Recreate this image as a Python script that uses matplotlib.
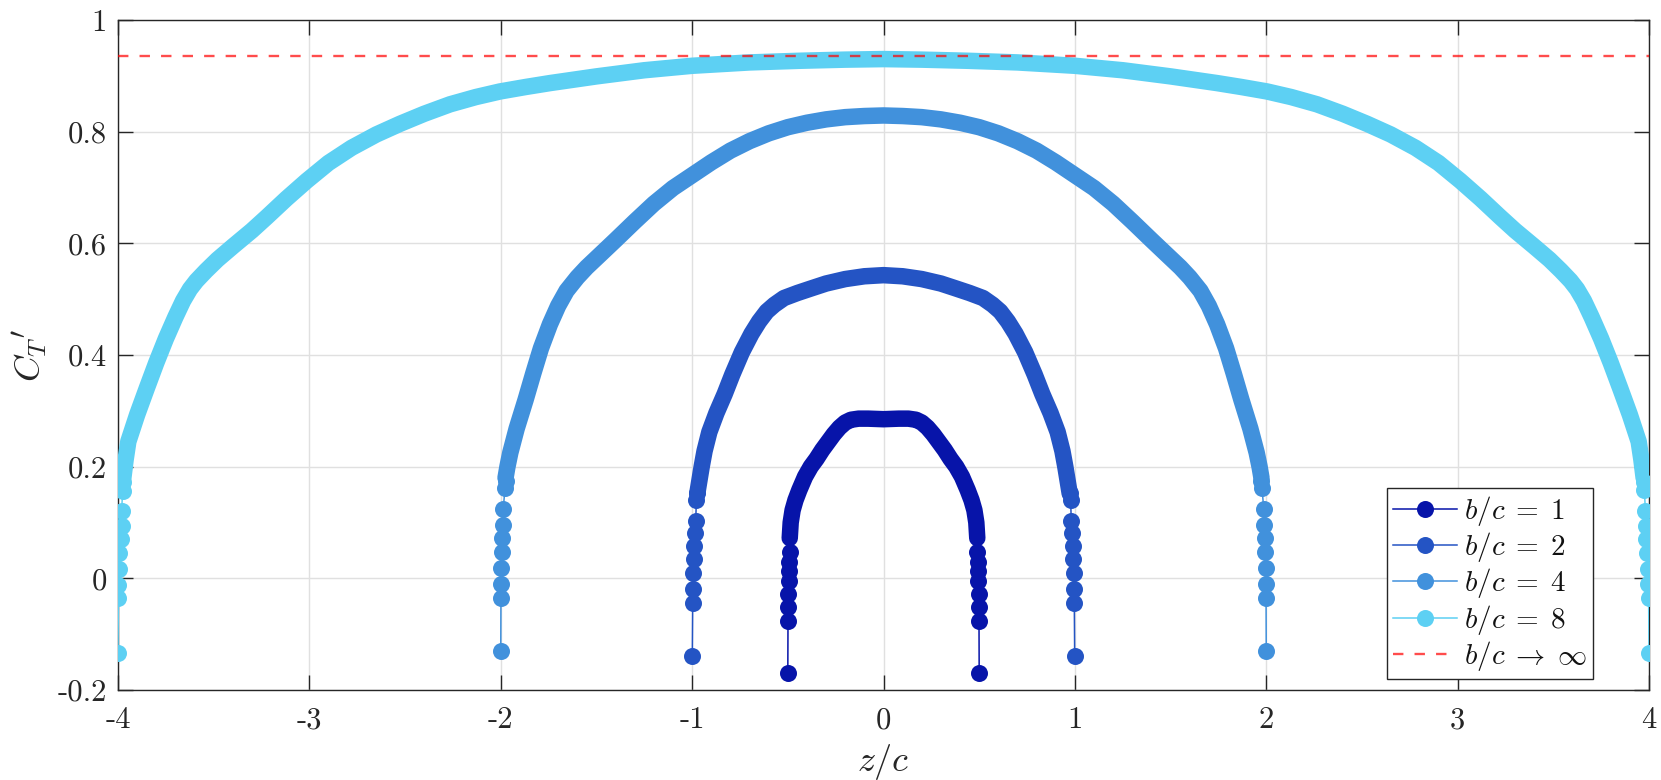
import matplotlib
matplotlib.use("Agg")
import matplotlib.pyplot as plt
from matplotlib.lines import Line2D

plt.rcParams['mathtext.fontset'] = 'cm'
plt.rcParams['lines.scale_dashes'] = False

# ---------------- data ----------------
labels = [r"$b/c\;=\;1$", r"$b/c\;=\;2$", r"$b/c\;=\;4$", r"$b/c\;=\;8$"]
label_inf = r"$b/c\;\rightarrow\;\infty$"
colors = ["#0714A9", "#2454C4", "#4191DC", "#5DD0F3"]
ct_inf = 0.936

# b/c = 1
z1_tipL = [-0.500, -0.499, -0.498, -0.497, -0.496, -0.494, -0.492, -0.490]
c1_tipL = [-0.170, -0.076, -0.052, -0.028, -0.005, 0.013, 0.030, 0.047]
z1_band = [-0.490, -0.485, -0.475, -0.460, -0.440, -0.410, -0.380, -0.350, -0.320, -0.290,
           -0.260, -0.230, -0.200, -0.170, -0.130, -0.080, 0.000, 0.080, 0.130, 0.170,
           0.200, 0.230, 0.260, 0.290, 0.320, 0.350, 0.380, 0.410, 0.440, 0.460,
           0.475, 0.485, 0.490]
c1_band = [0.072, 0.100, 0.122, 0.140, 0.158, 0.182, 0.200, 0.214, 0.230, 0.244,
           0.258, 0.270, 0.279, 0.284, 0.286, 0.286, 0.285, 0.286, 0.286, 0.284,
           0.279, 0.270, 0.258, 0.244, 0.230, 0.214, 0.200, 0.182, 0.158, 0.140,
           0.122, 0.100, 0.072]
z1_tipR = [0.490, 0.492, 0.494, 0.496, 0.497, 0.498, 0.499, 0.500]
c1_tipR = [0.047, 0.030, 0.013, -0.005, -0.028, -0.052, -0.076, -0.170]

# b/c = 2
z2_tipL = [-0.999, -0.997, -0.995, -0.993, -0.991, -0.988, -0.985, -0.981, -0.978, -0.973]
c2_tipL = [-0.139, -0.045, -0.020, 0.009, 0.035, 0.058, 0.081, 0.103, 0.140, 0.152]
z2_band = [-0.973, -0.962, -0.950, -0.935, -0.910, -0.873, -0.830, -0.790, -0.740, -0.690,
           -0.650, -0.610, -0.570, -0.520, -0.450, -0.380, -0.300, -0.200, -0.100, 0.000,
           0.100, 0.200, 0.300, 0.380, 0.450, 0.520, 0.570, 0.610, 0.650, 0.690,
           0.740, 0.790, 0.830, 0.873, 0.910, 0.935, 0.950, 0.962, 0.973]
c2_band = [0.152, 0.175, 0.200, 0.228, 0.262, 0.296, 0.330, 0.365, 0.405, 0.438,
           0.460, 0.478, 0.490, 0.502, 0.511, 0.519, 0.528, 0.536, 0.541, 0.543,
           0.541, 0.536, 0.528, 0.519, 0.511, 0.502, 0.490, 0.478, 0.460, 0.438,
           0.405, 0.365, 0.330, 0.296, 0.262, 0.228, 0.200, 0.175, 0.152]
z2_tipR = [0.973, 0.978, 0.981, 0.985, 0.988, 0.991, 0.993, 0.995, 0.997, 0.999]
c2_tipR = [0.152, 0.140, 0.103, 0.081, 0.058, 0.035, 0.009, -0.020, -0.045, -0.139]

# b/c = 4
z4_tipL = [-2.000, -1.999, -1.999, -1.997, -1.995, -1.992, -1.990, -1.987, -1.978, -1.975]
c4_tipL = [-0.131, -0.036, -0.010, 0.019, 0.048, 0.073, 0.096, 0.124, 0.161, 0.175]
z4_band = [-1.975, -1.965, -1.950, -1.917, -1.870, -1.830, -1.790, -1.743, -1.700, -1.656,
           -1.600, -1.551, -1.480, -1.400, -1.300, -1.200, -1.100, -1.000, -0.900, -0.800,
           -0.700, -0.600, -0.500, -0.400, -0.300, -0.200, -0.100, 0.000,
           0.100, 0.200, 0.300, 0.400, 0.500, 0.600, 0.700, 0.800, 0.900, 1.000,
           1.100, 1.200, 1.300, 1.400, 1.480, 1.551, 1.600, 1.656, 1.700, 1.743,
           1.790, 1.830, 1.870, 1.917, 1.950, 1.965, 1.975]
c4_band = [0.180, 0.200, 0.225, 0.268, 0.320, 0.367, 0.412, 0.455, 0.488, 0.515,
           0.539, 0.557, 0.580, 0.606, 0.639, 0.671, 0.699, 0.722, 0.745, 0.766,
           0.783, 0.797, 0.808, 0.816, 0.822, 0.826, 0.828, 0.829,
           0.828, 0.826, 0.822, 0.816, 0.808, 0.797, 0.783, 0.766, 0.745, 0.722,
           0.699, 0.671, 0.639, 0.606, 0.580, 0.557, 0.539, 0.515, 0.488, 0.455,
           0.412, 0.367, 0.320, 0.268, 0.225, 0.200, 0.180]
z4_tipR = [1.975, 1.978, 1.987, 1.990, 1.992, 1.995, 1.997, 1.999, 1.999, 2.000]
c4_tipR = [0.175, 0.161, 0.124, 0.096, 0.073, 0.048, 0.019, -0.010, -0.036, -0.131]

# b/c = 8
z8_tipL = [-4.000, -3.998, -3.998, -3.995, -3.993, -3.986, -3.981, -3.981, -3.976, -3.973]
c8_tipL = [-0.134, -0.036, -0.012, 0.017, 0.045, 0.070, 0.093, 0.120, 0.156, 0.172]
z8_band = [-3.972, -3.960, -3.946, -3.900, -3.850, -3.800, -3.750, -3.700, -3.660, -3.624,
           -3.590, -3.540, -3.480, -3.398, -3.300, -3.223, -3.120, -3.014, -2.900, -2.780,
           -2.650, -2.527, -2.400, -2.265, -2.130, -2.004, -1.870, -1.743, -1.500, -1.250,
           -1.000, -0.700, -0.436, -0.200, 0.000, 0.200, 0.436, 0.700, 1.000, 1.250,
           1.500, 1.743, 1.870, 2.004, 2.130, 2.265, 2.400, 2.527, 2.650, 2.780,
           2.900, 3.014, 3.120, 3.223, 3.300, 3.398, 3.480, 3.540, 3.590, 3.624,
           3.660, 3.700, 3.750, 3.800, 3.850, 3.900, 3.946, 3.960, 3.972]
c8_band = [0.180, 0.213, 0.245, 0.293, 0.340, 0.386, 0.429, 0.468, 0.497, 0.518,
           0.533, 0.551, 0.571, 0.595, 0.623, 0.647, 0.680, 0.712, 0.744, 0.771,
           0.795, 0.814, 0.832, 0.849, 0.862, 0.872, 0.880, 0.887, 0.899, 0.910,
           0.918, 0.924, 0.927, 0.929, 0.930, 0.929, 0.927, 0.924, 0.918, 0.910,
           0.899, 0.887, 0.880, 0.872, 0.862, 0.849, 0.832, 0.814, 0.795, 0.771,
           0.744, 0.712, 0.680, 0.647, 0.623, 0.595, 0.571, 0.551, 0.533, 0.518,
           0.497, 0.468, 0.429, 0.386, 0.340, 0.293, 0.245, 0.213, 0.180]
z8_tipR = [3.973, 3.976, 3.981, 3.983, 3.986, 3.990, 3.993, 3.995, 3.998, 4.000]
c8_tipR = [0.172, 0.158, 0.121, 0.094, 0.070, 0.046, 0.017, -0.011, -0.036, -0.133]

series = [
    (z1_tipL, c1_tipL, z1_band, c1_band, z1_tipR, c1_tipR),
    (z2_tipL, c2_tipL, z2_band, c2_band, z2_tipR, c2_tipR),
    (z4_tipL, c4_tipL, z4_band, c4_band, z4_tipR, c4_tipR),
    (z8_tipL, c8_tipL, z8_band, c8_band, z8_tipR, c8_tipR),
]

xticks = [-4, -3, -2, -1, 0, 1, 2, 3, 4]
xticklabels = ["-4", "-3", "-2", "-1", "0", "1", "2", "3", "4"]
yticks = [-0.2, 0, 0.2, 0.4, 0.6, 0.8, 1.0]
yticklabels = ["-0.2", "0", "0.2", "0.4", "0.6", "0.8", "1"]

# ---------------- figure ----------------
W, H = 1661, 780
fig = plt.figure(figsize=(W / 100, H / 100), dpi=100)
ax = fig.add_axes([118 / W, 1 - 690 / H, (1649 - 118) / W, (690 - 20) / H])

px = 0.72  # points per pixel
band_lw = 16.5 * px
ms = 17 * px

for (zl, cl, zb, cb, zr, cr), col in zip(series, colors):
    zall = list(zl) + list(zb) + list(zr)
    call = list(cl) + list(cb) + list(cr)
    ax.plot(zall, call, '-', color=col, lw=1.1, zorder=3)
    ax.plot(zb, cb, '-', color=col, lw=band_lw, solid_capstyle='round',
            solid_joinstyle='round', zorder=3)
    ax.plot(list(zl) + list(zr), list(cl) + list(cr), 'o', color=col, ms=ms,
            markeredgewidth=0, zorder=3)

ax.axhline(ct_inf, color='red', alpha=0.7, lw=1.7, dashes=(7.5, 8.0), zorder=4)

ax.set_xlim(-4, 4)
ax.set_ylim(-0.2, 1.0)
ax.set_xticks(xticks)
ax.set_yticks(yticks)
ax.set_xticklabels(xticklabels, fontfamily='cmr10', fontsize=22)
ax.set_yticklabels(yticklabels, fontfamily='cmr10', fontsize=22)

ax.grid(True, color='#e0e0e0', lw=1.0, zorder=0)
ax.set_axisbelow(True)
ax.tick_params(direction='in', length=11, width=1.0, color='#262626',
               top=True, right=True, labelcolor='#262626')
ax.tick_params(axis='x', pad=12)
ax.tick_params(axis='y', pad=8)
for s in ax.spines.values():
    s.set_color('#262626')
    s.set_linewidth(1.0)

ax.set_xlabel(r"$z/c$", fontsize=26, color='#262626', labelpad=6)
ax.set_ylabel(r"$C_T{}'$", fontsize=26, color='#262626', labelpad=6)

handles = [Line2D([], [], color=c, lw=1.1, marker='o', ms=ms, markeredgewidth=0)
           for c in colors]
handles.append(Line2D([], [], color='red', alpha=0.7, lw=1.7, dashes=(7.5, 8.0)))
leg = ax.legend(handles, labels + [label_inf], loc='lower right',
                bbox_to_anchor=((1593 - 118) / 1531, (690 - 679) / 670),
                borderaxespad=0, fontsize=21, handlelength=2.2, handletextpad=0.25,
                labelspacing=0.08, borderpad=0.2, frameon=True, fancybox=False,
                framealpha=1)
leg.get_frame().set_edgecolor('#262626')
leg.get_frame().set_linewidth(1.0)
for t in leg.get_texts():
    t.set_color('#111111')

fig.savefig("out.png", dpi=100, facecolor='white')
